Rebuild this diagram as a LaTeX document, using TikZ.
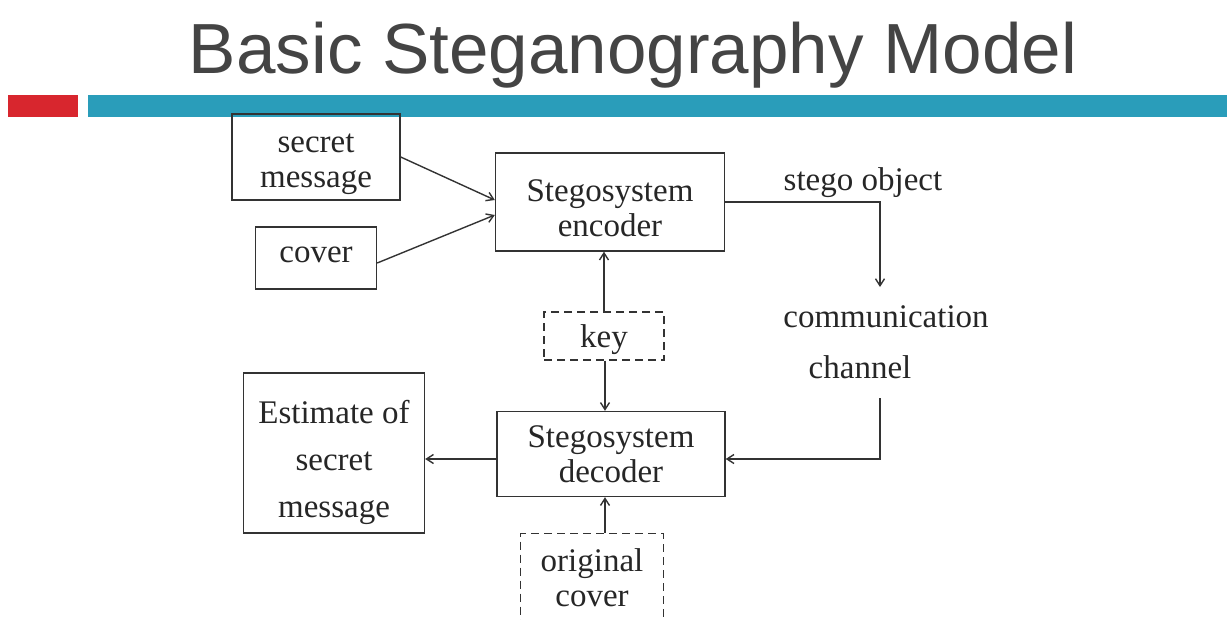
\documentclass[tikz,border=0pt]{standalone}
\usepackage{fontspec}
\setmainfont{Liberation Serif}
\newfontfamily\titlefont{Liberation Sans}
\usetikzlibrary{arrows.meta,positioning}
\definecolor{barred}{HTML}{D8262E}
\definecolor{barteal}{HTML}{2A9DBA}
\definecolor{titlegray}{HTML}{444444}
\definecolor{linegray}{HTML}{333333}
\tikzset{>={Straight Barb[length=7pt,width=9pt]},x=1pt,y=-1pt}
\tikzset{every node/.style={font=\fontsize{33}{35}\selectfont,text=black!85}}
% box text, lowered a little inside its box
\newcommand{\boxtext}[2][0pt]{\raisebox{-#1}[\height][\depth]{\begin{tabular}{@{}c@{}}#2\end{tabular}}}

\begin{document}
\begin{tikzpicture}[line width=1.4pt,color=linegray]
    \tikzstyle{block}=[draw,rectangle,inner sep=0pt]
    \tikzstyle{dashblock}=[block,dash pattern=on 8pt off 5pt]
    \useasboundingbox (0,0) rectangle (1227,619);
    \fill[barred] (8,95) rectangle (78,117);
    \fill[barteal] (88,95) rectangle (1227,117);
    \node[anchor=base,font=\titlefont\fontsize{71}{84}\selectfont,text=titlegray] (title) at (633,73) {Basic Steganography Model};
    \node[block,minimum width=168pt,minimum height=86pt] (secret) at (316,157) {\boxtext[6pt]{secret\\message}};
    \node[block,minimum width=121pt,minimum height=62pt] (cover) at (316,258) {\boxtext[-3pt]{cover}};
    \node[block,minimum width=229pt,minimum height=98pt] (enc) at (610,202) {\boxtext[10pt]{Stegosystem\\encoder}};
    \node[dashblock,minimum width=120pt,minimum height=48pt] (key) at (604,336) {\boxtext[4pt]{key}};
    \node[block,minimum width=228pt,minimum height=85pt] (dec) at (611,454) {\boxtext[4pt]{Stegosystem\\decoder}};
    \node[block,minimum width=181pt,minimum height=160pt] (est) at (334,453) {\boxtext[10pt]{Estimate of\\[12pt]secret\\[12pt]message}};
    \node[dashblock,minimum width=143pt,minimum height=96pt,anchor=north] (orig) at (592,533) {\boxtext{original\\cover}};
    \node (stego) at (863,183) {stego object};
    \node (comm)  at (886,317) {communication};
    \node (chan)  at (860,367) {channel};
    \coordinate (c1) at (880,287);
    \coordinate (c2) at (880,398);
    \draw[->] (secret.east) -- ([yshift=2pt]enc.west);
    \draw[->] ([yshift=-5pt]cover.east) -- ([yshift=-13pt]enc.west);
    \draw[->] (key.north -| 604,0) -- (enc.south -| 604,0);
    \draw[->] (key.south -| 605,0) -- (dec.north -| 605,0);
    \draw[->] (orig.north -| 605,0) -- (dec.south -| 605,0);
    \draw[->] (enc.east) -| (c1);
    \draw[->] (c2) |- ([yshift=-5pt]dec.east);
    \draw[->] ([yshift=-5pt]dec.west) -- ([yshift=-6pt]est.east);
\end{tikzpicture}
\end{document}
